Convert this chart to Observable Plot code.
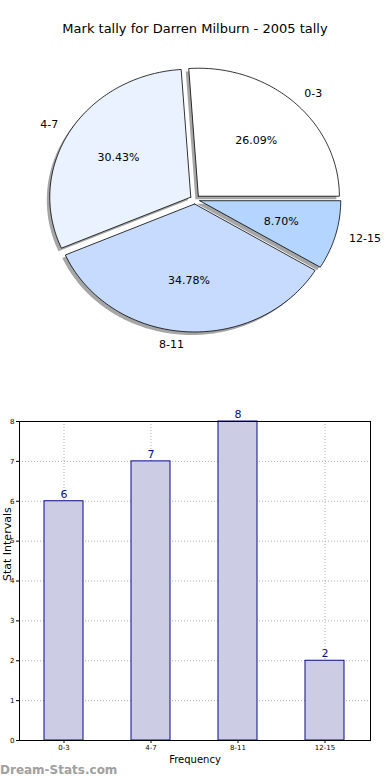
<!DOCTYPE html>
<html>
<head>
<meta charset="utf-8">
<script src="https://cdn.jsdelivr.net/npm/d3@7"></script>
<script src="https://cdn.jsdelivr.net/npm/@observablehq/plot@0.6"></script>
<style>
  html, body { margin: 0; padding: 0; background: #fff; }
  #wrap { position: relative; width: 390px; height: 780px; overflow: hidden; font-family: "DejaVu Sans", sans-serif; }
  #title { position: absolute; top: 21px; left: 0; width: 390px; text-align: center; font-size: 13px; color: #000; }
  #pie { position: absolute; top: 0; left: 0; }
  #bar { position: absolute; top: 400px; left: 0; }
  #wm { position: absolute; left: 0; top: 763px; font-size: 12px; font-weight: bold; color: #a0a0a0; }
</style>
</head>
<body>
<div id="wrap">
  <div id="pie"></div>
  <div id="title">Mark tally for Darren Milburn - 2005 tally</div>
  <div id="bar"></div>
  <div id="wm">Dream-Stats.com</div>
</div>
<script>
// ---- data ----
const categories = ["0-3", "4-7", "8-11", "12-15"];
const counts = [6, 7, 8, 2];
const sliceColors = ["#ffffff", "#ebf2ff", "#c6dbff", "#b4d5ff"];
const yTicks = [0, 1, 2, 3, 4, 5, 6, 7, 8];

// ---- pie geometry (derived from counts) ----
const total = d3.sum(counts);
const explode = 0.035;
let acc = 0;
const slices = categories.map((c, i) => {
  const a0 = acc / total * 360;
  acc += counts[i];
  const a1 = acc / total * 360;
  const mid = (a0 + a1) / 2 * Math.PI / 180;
  const cx = explode * Math.cos(mid), cy = explode * Math.sin(mid);
  const pts = [{x: cx, y: cy}];
  const n = Math.max(2, Math.ceil(a1 - a0));
  for (let k = 0; k <= n; k++) {
    const a = (a0 + (a1 - a0) * k / n) * Math.PI / 180;
    pts.push({x: cx + Math.cos(a), y: cy + Math.sin(a)});
  }
  pts.push({x: cx, y: cy});
  return {
    cat: c, color: sliceColors[i], pts,
    lx: cx + 1.1 * Math.cos(mid), ly: cy + 1.1 * Math.sin(mid),
    px: cx + 0.6 * Math.cos(mid), py: cy + 0.6 * Math.sin(mid),
    pct: (counts[i] / total * 100).toFixed(2) + "%"
  };
});

const pieMarks = [];
slices.forEach(s => {
  pieMarks.push(Plot.line(s.pts, {x: "x", y: "y", fill: "#4d4d4d", fillOpacity: 0.5, stroke: "none", dx: -3, dy: 3}));
});
slices.forEach(s => {
  pieMarks.push(Plot.line(s.pts, {x: "x", y: "y", fill: s.color, stroke: "#000", strokeWidth: 0.8}));
});
pieMarks.push(Plot.text(slices.filter(s => s.lx >= 0), {x: "lx", y: "ly", text: "cat", textAnchor: "start", fontSize: 11, fill: "#000"}));
pieMarks.push(Plot.text(slices.filter(s => s.lx < 0), {x: "lx", y: "ly", text: "cat", textAnchor: "end", fontSize: 11, fill: "#000"}));
pieMarks.push(Plot.text(slices, {x: "px", y: "py", text: "pct", fontSize: 11, fill: "#000"}));

const pie = Plot.plot({
  width: 390, height: 380,
  margin: 0,
  style: {fontFamily: "DejaVu Sans, sans-serif", background: "transparent"},
  x: {domain: [-1, 1], range: [194.5 - 141, 194.5 + 141], axis: null},
  y: {domain: [-1, 1], range: [199 + 128, 199 - 128], axis: null},
  marks: pieMarks
});
document.getElementById("pie").appendChild(pie);

// ---- bar chart ----
const barData = categories.map((c, i) => ({cat: c, value: counts[i]}));
const bar = Plot.plot({
  width: 390, height: 380,
  marginLeft: 19, marginRight: 20, marginTop: 21, marginBottom: 40,
  style: {fontFamily: "DejaVu Sans, sans-serif", background: "transparent"},
  x: {domain: categories, paddingInner: 0.55, paddingOuter: 0.275, align: 0.5, label: null},
  y: {domain: [0, 8], ticks: yTicks, label: null},
  marks: [
    Plot.gridY(yTicks, {stroke: "#b0b0b0", strokeOpacity: 1, strokeDasharray: "1,2"}),
    Plot.gridX({stroke: "#b0b0b0", strokeOpacity: 1, strokeDasharray: "1,2"}),
    Plot.barY(barData, {x: "cat", y: "value", fill: "#ccccE5", stroke: "#0b0b8b", strokeWidth: 1}),
    Plot.text(barData, {x: "cat", y: "value", text: d => String(d.value), dy: -7, fill: "#0b0b8b", fontSize: 11}),
    Plot.axisY(yTicks, {tickSize: 3, tickPadding: 2, fontSize: 7, label: null, tickFormat: d => d}),
    Plot.axisX({tickSize: 3, tickPadding: 2, fontSize: 7, label: null}),
    Plot.frame({stroke: "#000", strokeWidth: 1}),
    Plot.text(["Stat Intervals"], {frameAnchor: "left", rotate: -90, dx: -12, fontSize: 11, fill: "#000"}),
    Plot.text(["Frequency"], {frameAnchor: "bottom", dy: 22, fontSize: 10, fill: "#000"})
  ]
});
document.getElementById("bar").appendChild(bar);
</script>
</body>
</html>
